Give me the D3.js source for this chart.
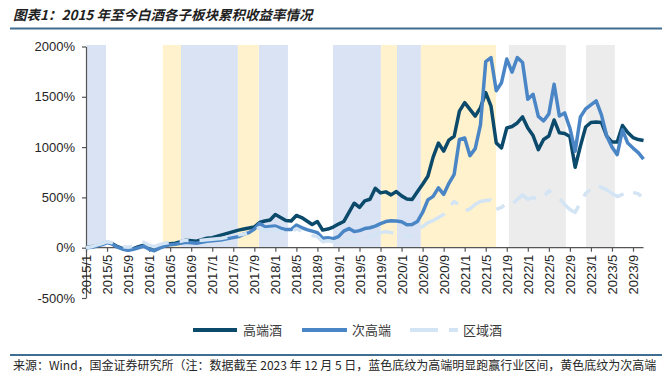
<!DOCTYPE html>
<html><head><meta charset="utf-8">
<script src="https://cdn.jsdelivr.net/npm/d3@7"></script>
<style>
html,body{margin:0;padding:0;background:#fff;}
svg{display:block;}
</style></head><body>
<svg id="c" width="662" height="386"></svg>
<script>
// ---------- data ----------
const months = d3.range(107).map(i => `${2015 + Math.floor(i / 12)}/${i % 12 + 1}`); // 2015/1 .. 2023/11

const highEnd = [0,10,20,35,55,40,10,-10,-20,-10,10,25,-5,-20,5,25,40,45,60,75,70,65,80,95,100,
  115,130,145,160,175,185,195,205,250,265,275,330,300,270,265,320,300,265,230,260,175,185,205,235,260,
  350,442,400,465,482,590,545,555,525,558,515,485,480,555,630,710,900,1040,960,1070,1108,1358,1442,1375,1308,
  1392,1542,1408,1042,992,1190,1205,1240,1300,1190,1115,975,1075,1110,1270,1142,1135,1105,800,1010,1200,1245,
  1250,1245,1110,1050,1050,1215,1145,1095,1075,1065];

const subHighEnd = [0,5,15,30,50,35,5,-15,-25,-15,0,15,-15,-30,-5,15,30,35,45,55,50,45,55,65,70,
  75,80,90,100,110,135,150,185,240,205,210,215,195,180,180,225,200,180,165,150,95,100,90,110,165,
  190,160,170,190,198,215,240,260,268,265,258,228,230,260,350,475,510,595,530,640,730,1075,1090,915,985,
  1220,1850,1890,1560,1640,1875,1745,1890,1840,1475,1525,1305,1260,1330,1625,1310,1340,1190,958,1300,1380,1420,
  1460,1320,1110,1000,925,1170,1040,990,945,880];

const regional = [0,10,25,40,60,50,30,10,5,15,40,55,25,10,30,45,55,60,65,75,70,70,75,80,85,
  90,95,105,115,125,135,150,170,200,175,180,185,160,150,150,190,165,140,120,110,60,70,60,55,100,
  95,90,95,105,110,130,150,160,150,140,125,110,120,170,210,250,270,300,330,400,460,420,365,385,430,
  460,470,475,380,400,445,430,480,525,480,500,475,500,568,530,492,430,380,350,450,540,580,
  625,600,575,540,508,530,568,550,535,492];

const seriesNames = ["高端酒", "次高端", "区域酒"];
const seriesColors = ["#0b4a6b", "#4a86c6", "#d3e4f4"];

const yTicks = [-500, 0, 500, 1000, 1500, 2000];
const xTickLabels = ["2015/1","2015/5","2015/9","2016/1","2016/5","2016/9","2017/1","2017/5","2017/9",
  "2018/1","2018/5","2018/9","2019/1","2019/5","2019/9","2020/1","2020/5","2020/9","2021/1","2021/5",
  "2021/9","2022/1","2022/5","2022/9","2023/1","2023/5","2023/9"];

// shaded periods (start, end dates)
const bandsBlue = [["2015-01-01","2015-04-25"],["2016-07-03","2017-05-28"],["2017-09-27","2018-03-13"],
  ["2018-11-30","2019-09-03"],["2019-12-05","2020-04-21"]];
const bandsYellow = [["2016-03-20","2016-07-03"],["2017-05-28","2017-09-27"],["2019-09-03","2019-12-05"],
  ["2020-04-21","2021-06-30"]];
const bandsGray = [["2021-09-13","2022-08-08"],["2022-12-03","2023-05-18"]];

const title = "图表1：2015 年至今白酒各子板块累积收益率情况";
const source = "来源：Wind，国金证券研究所（注：数据截至 2023 年 12 月 5 日，蓝色底纹为高端明显跑赢行业区间，黄色底纹为次高端";

// ---------- helpers ----------
const labelToIdx = s => { const [y, m] = s.split("/").map(Number); return (y - 2015) * 12 + m - 1; };
const dateToIdx = s => {
  const [y, m, d] = s.split("-").map(Number);
  const dim = new Date(y, m, 0).getDate();
  return (y - 2015) * 12 + (m - 1) + (d - 1) / dim;
};

// ---------- chart ----------
const svg = d3.select("#c");
const x = d3.scaleLinear().domain([0, 104]).range([86, 633]);
const y = d3.scaleLinear().domain([-500, 2000]).range([298, 46.5]);

const cjk = "'Noto Sans CJK SC', 'Noto Sans', sans-serif";
const latin = "'Liberation Sans', Arial, sans-serif";

// title
svg.append("text").attr("x", 13).attr("y", 20).text(title)
  .attr("font-family", cjk).attr("font-size", 13.5).attr("font-weight", "bold")
  .attr("font-style", "italic").attr("fill", "#1f1f1f");
svg.append("line").attr("x1", 10).attr("x2", 662).attr("y1", 28.5).attr("y2", 28.5)
  .attr("stroke", "#3f6e92").attr("stroke-width", 2);

// bands
const bandG = svg.append("g");
function drawBands(list, color) {
  bandG.selectAll(null).data(list).enter().append("rect")
    .attr("x", d => x(dateToIdx(d[0])))
    .attr("width", d => x(dateToIdx(d[1])) - x(dateToIdx(d[0])))
    .attr("y", y(2000) - 1.5)
    .attr("height", y(0) - y(2000) + 1.5)
    .attr("fill", color);
}
drawBands(bandsBlue, "#dae3f3");
drawBands(bandsYellow, "#fff2cc");
drawBands(bandsGray, "#ececec");

// y axis
const axisColor = "#555";
const yAxis = svg.append("g").attr("transform", "translate(86,0)")
  .call(d3.axisLeft(y).tickValues(yTicks).tickFormat(d => d + "%").tickSize(4).tickSizeOuter(0));
yAxis.select(".domain").attr("stroke", axisColor).attr("stroke-width", 1.2);
yAxis.selectAll(".tick line").attr("stroke", axisColor).attr("stroke-width", 1.2);
yAxis.selectAll(".tick text").attr("font-family", latin).attr("font-size", 13)
  .attr("fill", "#262626").attr("x", -11);

// x axis
const xAxis = svg.append("g").attr("transform", `translate(0,${y(0)})`)
  .call(d3.axisBottom(x).tickValues(xTickLabels.map(labelToIdx))
    .tickFormat((d, i) => xTickLabels[i]).tickSize(4).tickSizeOuter(0));
xAxis.select(".domain").attr("d", `M${x(0)},0H${x(106)}`).attr("stroke", axisColor).attr("stroke-width", 1.2);
xAxis.selectAll(".tick line").attr("stroke", axisColor).attr("stroke-width", 1.2);
xAxis.selectAll(".tick text").attr("font-family", latin).attr("font-size", 13).attr("fill", "#262626")
  .attr("transform", "rotate(-90)").attr("text-anchor", "end")
  .attr("x", -7).attr("y", 0).attr("dy", "0.35em");

// lines
const line = d3.line().x((d, i) => x(i)).y(d => y(d));
const allSeries = [highEnd, subHighEnd, regional];
const dashes = [null, null, "28,11,9,11"];
allSeries.forEach((s, k) => {
  svg.append("path").datum(s).attr("d", line).attr("fill", "none")
    .attr("stroke", seriesColors[k]).attr("stroke-width", 3.5)
    .attr("stroke-linejoin", "round")
    .attr("stroke-dasharray", dashes[k]);
});

// legend
const legendItems = [
  {x1: 193, x2: 237, tx: 243},
  {x1: 302, x2: 347, tx: 352},
  {x1: 410, x2: 458, tx: 463}
];
legendItems.forEach((it, k) => {
  svg.append("line").attr("x1", it.x1).attr("x2", it.x2).attr("y1", 330).attr("y2", 330)
    .attr("stroke", seriesColors[k]).attr("stroke-width", 4).attr("stroke-dasharray", dashes[k]);
  svg.append("text").attr("x", it.tx).attr("y", 330).attr("dy", "0.36em").text(seriesNames[k])
    .attr("font-family", cjk).attr("font-size", 13).attr("fill", "#3a3a3a");
});

// footer
svg.append("line").attr("x1", 10).attr("x2", 662).attr("y1", 355).attr("y2", 355)
  .attr("stroke", "#3f6e92").attr("stroke-width", 2);
svg.append("text").attr("x", 13).attr("y", 366).attr("dy", "0.36em").text(source)
  .attr("font-family", cjk).attr("font-size", 12).attr("fill", "#262626");
</script>
</body></html>
